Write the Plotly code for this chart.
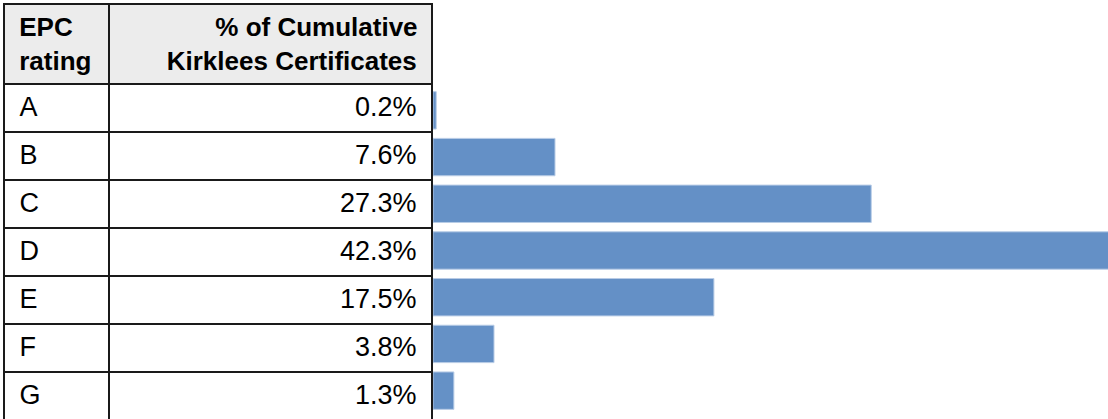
import plotly.graph_objects as go

# data
ratings = ['A', 'B', 'C', 'D', 'E', 'F', 'G']
pct_values = [0.2, 7.6, 27.3, 42.3, 17.5, 3.8, 1.3]
pct_labels = ['0.2%', '7.6%', '27.3%', '42.3%', '17.5%', '3.8%', '1.3%']
header_col1 = ['EPC', 'rating']
header_col2 = ['% of Cumulative', 'Kirklees Certificates']

W, H = 1108, 419
font_family = 'Arial, Liberation Sans, sans-serif'
nb = '\u00a0'


def body(txt):
    # cell font size only pushes the baseline down; the span sets the text size.
    # the trailing <br> stops the table from word-wrapping the markup
    return '<span style="font-size:27px">' + txt + '</span><br>'


# header lines are left-aligned inside their block, so pad the short line in front
hdr1 = '<b>' + '<br>'.join(nb + s for s in header_col1) + '</b>'
hdr2 = '<b>' + nb * 6 + '\u2009' + header_col2[0] + '<br>' + header_col2[1] + nb + '</b>'

fig = go.Figure()

# Table on the left
fig.add_trace(go.Table(
    domain=dict(x=[4 / W, 432 / W], y=[0, 1 - 4 / H]),
    columnwidth=[105, 321],
    header=dict(
        values=[hdr1, hdr2],
        align=['left', 'right'],
        fill_color='#ececec',
        line=dict(color='#1a1a1a', width=2),
        font=dict(family=font_family, size=26, color='black'),
        height=77,
    ),
    cells=dict(
        values=[[body(nb + r) for r in ratings], [body(p + nb) for p in pct_labels]],
        align=['left', 'right'],
        fill_color='white',
        line=dict(color='#1a1a1a', width=2),
        font=dict(family=font_family, size=33, color='black'),
        height=48,
    ),
))

# Bars on the right
fig.add_trace(go.Bar(
    x=pct_values,
    y=ratings,
    orientation='h',
    marker=dict(color='#6490c6', line=dict(color='#b8cce6', width=1)),
    showlegend=False,
    hoverinfo='x+y',
))

fig.update_layout(
    width=W, height=H,
    margin=dict(l=0, r=0, t=0, b=0),
    paper_bgcolor='white',
    plot_bgcolor='white',
    bargap=0.2,
    xaxis=dict(domain=[433 / W, 1], range=[0, 42.05], visible=False),
    yaxis=dict(
        domain=[(H - 414) / H, (H - 87) / H],
        autorange='reversed',
        showticklabels=False,
        showgrid=False,
        zeroline=False,
        showline=True,
        linecolor='#1a1a1a',
        linewidth=2,
        ticks='',
    ),
)

# drop the page's default body margin so the figure sits at the window origin
fig.write_html('out.html', config={'displayModeBar': False},
               post_script="document.body.style.margin='0px';")
